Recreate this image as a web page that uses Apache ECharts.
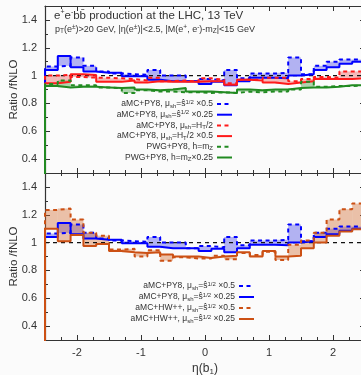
<!DOCTYPE html>
<html>
<head>
<meta charset="utf-8">
<script src="https://cdn.jsdelivr.net/npm/echarts@6/dist/echarts.min.js"></script>
<style>
  html, body { margin: 0; padding: 0; background: #fbfbfb; }
  #chart { width: 361px; height: 375px; }
</style>
</head>
<body>
<div id="chart"></div>
<script>
// Bin edges in eta(b1): 25 bins of width 0.2
const etaEdges = [-2.5, -2.3, -2.1, -1.9, -1.7, -1.5, -1.3, -1.1, -0.9, -0.7, -0.5, -0.3, -0.1,
                  0.1, 0.3, 0.5, 0.7, 0.9, 1.1, 1.3, 1.5, 1.7, 1.9, 2.1, 2.3, 2.5];

// Ratios to fNLO, one value per bin
const pySqrtS05 = [1.065, 1.07, 1.13, 1.07, 1.03, 1.015, 1.01, 1.005, 1.04, 1.0, 1.0, 0.96, 0.975,
                   0.965, 1.04, 0.98, 1.015, 1.015, 1.02, 1.13, 1.01, 1.07, 1.10, 1.115, 1.115];
const pySqrtS025 = [1.04, 1.14, 1.06, 1.03, 1.02, 1.02, 0.995, 0.995, 0.97, 0.96, 0.96, 0.96, 0.94,
                    0.955, 0.93, 0.96, 0.985, 0.985, 0.98, 1.0, 1.01, 1.04, 1.06, 1.085, 1.10];
const pyHT2 = [1.0, 1.005, 0.99, 0.985, 0.985, 0.98, 0.975, 0.965, 0.985, 0.96, 0.965, 0.955, 0.98,
               0.97, 0.945, 0.97, 0.97, 0.985, 0.985, 0.96, 0.975, 0.99, 0.985, 1.03, 1.03];
const pyHT2x05 = [0.945, 0.955, 1.01, 1.005, 0.955, 0.955, 0.965, 0.95, 0.96, 0.955, 0.955, 0.955, 0.96,
                  0.96, 0.935, 0.97, 0.965, 0.95, 0.94, 0.95, 0.96, 0.975, 0.975, 0.975, 0.98];
const pwgMZ = [0.94, 0.965, 0.93, 0.93, 0.915, 0.91, 0.875, 0.895, 0.885, 0.885, 0.88, 0.88, 0.875,
               0.88, 0.875, 0.885, 0.88, 0.885, 0.885, 0.9, 0.955, 0.92, 0.925, 0.925, 0.93];
const pwgMZx025 = [0.925, 0.915, 0.92, 0.92, 0.915, 0.91, 0.915, 0.9, 0.895, 0.9, 0.91, 0.885, 0.885,
                   0.88, 0.875, 0.9, 0.895, 0.9, 0.9, 0.91, 0.915, 0.915, 0.92, 0.93, 0.93];
const hwSqrtS05 = [1.235, 1.245, 1.165, 1.07, 1.05, 0.95, 0.955, 0.90, 0.945, 0.87, 0.895, 0.885, 0.885,
                   0.905, 0.88, 0.925, 0.91, 0.935, 0.875, 0.985, 1.015, 1.07, 1.165, 1.24, 1.28];
const hwSqrtS025 = [1.10, 1.01, 1.055, 0.975, 0.99, 0.94, 0.93, 0.925, 0.93, 0.915, 0.9, 0.9, 0.89,
                    0.9, 0.905, 0.93, 0.9, 0.94, 0.9, 0.905, 0.96, 1.0, 1.05, 1.08, 1.095];

// Histogram steps rise from zero at the first bin edge
const histBaseline = 0;

// Axis ticks and labels
const xMajorTicks = [-2, -1, 0, 1, 2];
const xMinorTicks = [-2.25, -1.75, -1.5, -1.25, -0.75, -0.5, -0.25, 0.25, 0.5, 0.75, 1.25, 1.5, 1.75, 2.25];
const yMajorTicks = [0.4, 0.6, 0.8, 1, 1.2, 1.4];
const yMinorTicks = [0.5, 0.7, 0.9, 1.1, 1.3];
const referenceRatio = 1;

const FONT = '"Liberation Sans", Arial, Helvetica, sans-serif';
const INK = '#333';
const C = {
  blue: '#0000ff', blueFill: 'rgba(60,60,230,0.38)',
  red: '#ff1a1a', redFill: 'rgba(232,70,70,0.36)',
  green: '#218a21', greenFill: 'rgba(40,140,40,0.36)',
  orange: '#cc5014', orangeFill: 'rgba(210,105,45,0.40)'
};
const DASH = [4, 3.5];

// Legend entries: [label, colour, dashed]
const topLegend = [
  ['{t|aMC+PY8, μ}{b|sh}{t|=ŝ}{p|1/2}{t| ×0.5}', C.blue, true],
  ['{t|aMC+PY8, μ}{b|sh}{t|=ŝ}{p|1/2}{t| ×0.25}', C.blue, false],
  ['{t|aMC+PY8, μ}{b|sh}{t|=H}{b|T}{t|/2}', C.red, true],
  ['{t|aMC+PY8, μ}{b|sh}{t|=H}{b|T}{t|/2 ×0.5}', C.red, false],
  ['{t|PWG+PY8, h=m}{b|Z}', C.green, true],
  ['{t|PWG+PY8, h=m}{b|Z}{t|×0.25}', C.green, false]
];
const bottomLegend = [
  ['{t|aMC+PY8, μ}{b|sh}{t|=ŝ}{p|1/2}{t| ×0.5}', C.blue, true],
  ['{t|aMC+PY8, μ}{b|sh}{t|=ŝ}{p|1/2}{t| ×0.25}', C.blue, false],
  ['{t|aMC+HW++, μ}{b|sh}{t|=ŝ}{p|1/2}{t| ×0.5}', C.orange, true],
  ['{t|aMC+HW++, μ}{b|sh}{t|=ŝ}{p|1/2}{t| ×0.25}', C.orange, false]
];

const legendRich = {
  t: { fontSize: 8.5, fontFamily: FONT, fill: INK, color: INK, lineHeight: 10, verticalAlign: 'middle' },
  b: { fontSize: 6, fontFamily: FONT, fill: INK, color: INK, lineHeight: 10, verticalAlign: 'bottom' },
  p: { fontSize: 6, fontFamily: FONT, fill: INK, color: INK, lineHeight: 10, verticalAlign: 'top' }
};

function legendGraphics(entries, xRight, yTop, step) {
  const out = [];
  entries.forEach(([label, color, dashed], i) => {
    const y = yTop + i * step;
    out.push({ type: 'text', silent: true, z: 10,
      style: { text: label, x: xRight, y: y, align: 'right', verticalAlign: 'middle', rich: legendRich } });
    out.push({ type: 'line', silent: true, z: 10,
      shape: { x1: xRight + 4, y1: y, x2: xRight + 19, y2: y },
      style: { stroke: color, lineWidth: 2, lineDash: dashed ? DASH : null } });
  });
  return out;
}

function stepData(vals) {
  const d = [[etaEdges[0], histBaseline]];
  vals.forEach((v, i) => d.push([etaEdges[i], v]));
  d.push([etaEdges[vals.length], vals[vals.length - 1]]);
  return d;
}

function stepLine(vals, color, dashed, axis) {
  return {
    type: 'line', step: 'end', symbol: 'none', silent: true,
    xAxisIndex: axis.x, yAxisIndex: axis.y, z: 3,
    data: stepData(vals),
    lineStyle: { color, width: 2, type: dashed ? DASH : 'solid' }
  };
}

function band(a, b, fill, axis) {
  return {
    type: 'custom', silent: true, xAxisIndex: axis.x, yAxisIndex: axis.y, z: 1,
    data: a.map((v, i) => [etaEdges[i], etaEdges[i + 1], v, b[i]]),
    encode: { x: [0, 1], y: [2, 3] },
    renderItem: (params, api) => {
      const p0 = api.coord([api.value(0), api.value(2)]);
      const p1 = api.coord([api.value(1), api.value(3)]);
      return {
        type: 'rect',
        shape: { x: Math.min(p0[0], p1[0]), y: Math.min(p0[1], p1[1]),
                 width: Math.abs(p1[0] - p0[0]), height: Math.abs(p1[1] - p0[1]) },
        style: { fill: fill }
      };
    }
  };
}

function refLine(axis) {
  return {
    type: 'line', symbol: 'none', silent: true, xAxisIndex: axis.x, yAxisIndex: axis.y, z: 2,
    data: [[etaEdges[0], referenceRatio], [etaEdges[etaEdges.length - 1], referenceRatio]],
    lineStyle: { color: '#111', width: 1.3, type: [4, 4] }
  };
}

// Four x axes and four y axes per panel: major/minor ticks on each side of the frame
const xAxes = [], yAxes = [];
function addAxes(gi, withLabels) {
  const xBase = { gridIndex: gi, type: 'value', min: etaEdges[0], max: etaEdges[etaEdges.length - 1],
                  splitLine: { show: false }, axisLabel: { show: false } };
  const yBase = { gridIndex: gi, type: 'value', min: 0.3, max: 1.5,
                  splitLine: { show: false }, axisLabel: { show: false } };
  const line = { show: true, onZero: false, lineStyle: { color: INK, width: 1.2 } };
  const noLine = { show: false, onZero: false };
  const tick = (len, values) => ({ show: true, inside: true, length: len, customValues: values,
                                    lineStyle: { color: INK, width: 1 } });
  const xIdx = xAxes.length, yIdx = yAxes.length;
  xAxes.push(Object.assign({}, xBase, {
    position: 'bottom', axisLine: line, axisTick: tick(5, xMajorTicks),
    axisLabel: withLabels ? { show: true, customValues: xMajorTicks, margin: 7, fontSize: 11,
                              fontFamily: FONT, color: INK } : { show: false },
    name: withLabels ? '{n|η(b}{s|1}{n|)}' : '', nameLocation: 'middle', nameGap: 22, nameMoveOverlap: false,
    nameTextStyle: { rich: {
      n: { fontSize: 12, fontFamily: FONT, color: INK, lineHeight: 14, verticalAlign: 'middle' },
      s: { fontSize: 8, fontFamily: FONT, color: INK, lineHeight: 14, verticalAlign: 'bottom' } } }
  }));
  xAxes.push(Object.assign({}, xBase, { position: 'bottom', axisLine: noLine, axisTick: tick(3, xMinorTicks) }));
  xAxes.push(Object.assign({}, xBase, { position: 'top', axisLine: line, axisTick: tick(5, xMajorTicks) }));
  xAxes.push(Object.assign({}, xBase, { position: 'top', axisLine: noLine, axisTick: tick(3, xMinorTicks) }));
  yAxes.push(Object.assign({}, yBase, {
    position: 'left', axisLine: line, axisTick: tick(5, yMajorTicks),
    axisLabel: { show: true, customValues: yMajorTicks, margin: 8, fontSize: 11, fontFamily: FONT, color: INK },
    name: 'Ratio /fNLO', nameLocation: 'middle', nameRotate: 90, nameGap: 25, nameMoveOverlap: false,
    nameTextStyle: { fontSize: 11.5, fontFamily: FONT, color: INK }
  }));
  yAxes.push(Object.assign({}, yBase, { position: 'left', axisLine: noLine, axisTick: tick(3, yMinorTicks) }));
  yAxes.push(Object.assign({}, yBase, { position: 'right', axisLine: line, axisTick: tick(5, yMajorTicks) }));
  yAxes.push(Object.assign({}, yBase, { position: 'right', axisLine: noLine, axisTick: tick(3, yMinorTicks) }));
  return { x: xIdx, y: yIdx };
}

const topAx = addAxes(0, false);
const botAx = addAxes(1, true);

const series = [
  band(pySqrtS05, pySqrtS025, C.blueFill, topAx),
  band(pyHT2, pyHT2x05, C.redFill, topAx),
  band(pwgMZ, pwgMZx025, C.greenFill, topAx),
  refLine(topAx),
  stepLine(pySqrtS05, C.blue, true, topAx),
  stepLine(pySqrtS025, C.blue, false, topAx),
  stepLine(pyHT2, C.red, true, topAx),
  stepLine(pyHT2x05, C.red, false, topAx),
  stepLine(pwgMZ, C.green, true, topAx),
  stepLine(pwgMZx025, C.green, false, topAx),

  band(pySqrtS05, pySqrtS025, C.blueFill, botAx),
  band(hwSqrtS05, hwSqrtS025, C.orangeFill, botAx),
  refLine(botAx),
  stepLine(pySqrtS05, C.blue, true, botAx),
  stepLine(pySqrtS025, C.blue, false, botAx),
  stepLine(hwSqrtS05, C.orange, true, botAx),
  stepLine(hwSqrtS025, C.orange, false, botAx)
];

const chart = echarts.init(document.getElementById('chart'), null, { renderer: 'canvas' });
chart.setOption({
  backgroundColor: '#fbfbfb',
  animation: false,
  title: [
    { left: 54, top: 9, padding: 0,
      text: '{n|e}{p|+}{n|e}{p|-}{n|bb̄ production at the LHC, 13 TeV}',
      textStyle: { fontWeight: 'normal', rich: {
        n: { fontSize: 11.5, fontFamily: FONT, fontWeight: 'normal', color: INK, lineHeight: 13, verticalAlign: 'bottom' },
        p: { fontSize: 7, fontFamily: FONT, fontWeight: 'normal', color: INK, lineHeight: 13, verticalAlign: 'top' } } } },
    { left: 55, top: 24, padding: 0,
      text: '{n|p}{b|T}{n|(e}{p|±}{n|)>20 GeV, |η(e}{p|±}{n|)|<2.5, |M(e}{p|+}{n|, e}{p|-}{n|)-m}{b|Z}{n||<15 GeV}',
      textStyle: { fontWeight: 'normal', rich: {
        n: { fontSize: 9, fontFamily: FONT, fontWeight: 'normal', color: INK, lineHeight: 11, verticalAlign: 'middle' },
        b: { fontSize: 6.5, fontFamily: FONT, fontWeight: 'normal', color: INK, lineHeight: 11, verticalAlign: 'bottom' },
        p: { fontSize: 6.5, fontFamily: FONT, fontWeight: 'normal', color: INK, lineHeight: 11, verticalAlign: 'top' } } } }
  ],
  grid: [
    { left: 45, top: 6, width: 320, height: 167, show: false, containLabel: false, outerBoundsMode: 'none' },
    { left: 45, top: 173, width: 320, height: 167, show: false, containLabel: false, outerBoundsMode: 'none' }
  ],
  xAxis: xAxes,
  yAxis: yAxes,
  series,
  graphic: [].concat(legendGraphics(topLegend, 213, 104, 10.7), legendGraphics(bottomLegend, 235, 286, 11))
});
</script>
</body>
</html>
